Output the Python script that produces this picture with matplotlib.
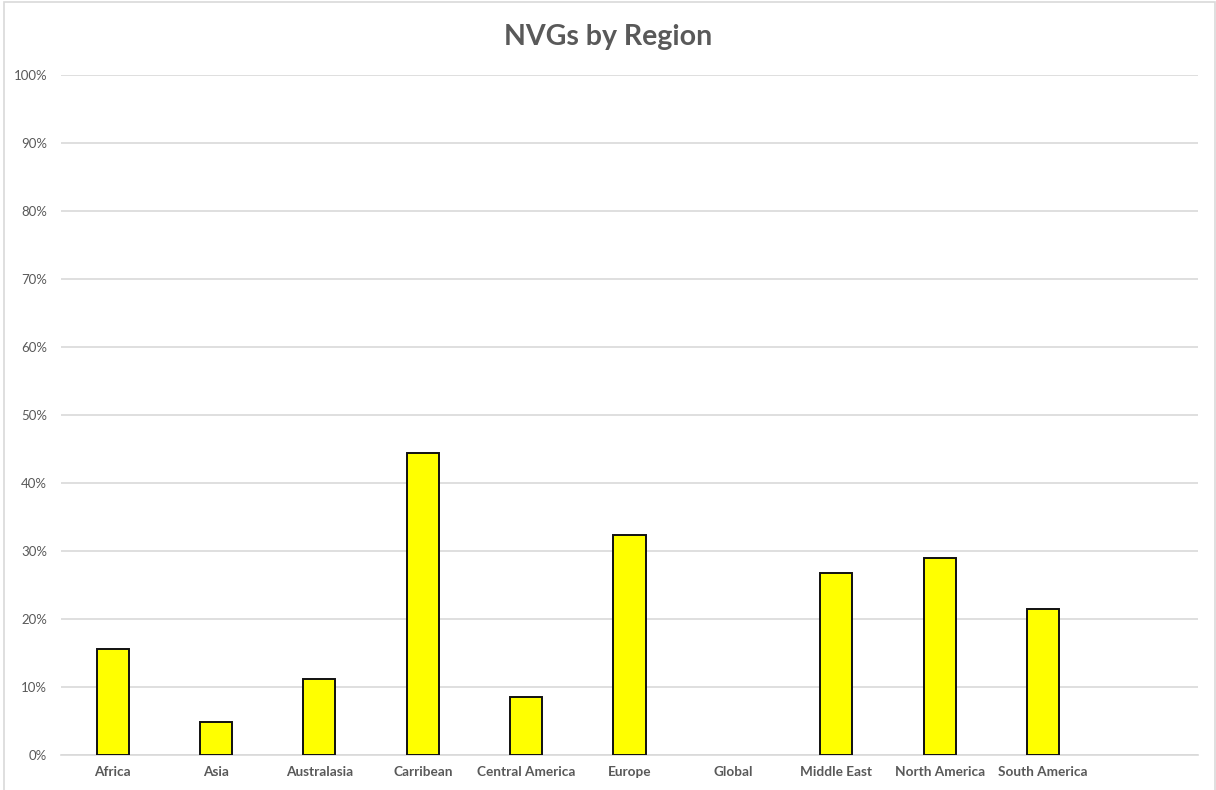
import matplotlib
matplotlib.use("Agg")
import matplotlib.pyplot as plt
from matplotlib.patches import Rectangle
from matplotlib.ticker import PercentFormatter, MultipleLocator

plt.rcParams["font.family"] = ["Lato", "DejaVu Sans"]

regions = ["Africa", "Asia", "Australasia", "Carribean", "Central America",
           "Europe", "Global", "Middle East", "North America", "South America", ""]
share = [0.155, 0.048, 0.111, 0.444, 0.084, 0.323, 0.0, 0.267, 0.289, 0.214, 0.0]

GREY = "#595959"
GRID = "#d9d9d9"

fig = plt.figure(figsize=(12.16, 7.9), dpi=100)
ax = fig.add_axes([61 / 1216, (790 - 754.6) / 790, (1198 - 61) / 1216, (754.6 - 74.5) / 790])

x = range(len(regions))
# empty categories get no outline, as in the spreadsheet
widths = [1.4 if v > 0 else 0 for v in share]
ax.bar(x, share, width=0.31, color="#ffff00", edgecolor="#111111", linewidth=widths, zorder=3)

ax.set_xlim(-0.5, len(regions) - 0.5)
ax.set_ylim(0, 1.0)
ax.yaxis.set_major_locator(MultipleLocator(0.1))
ax.yaxis.set_major_formatter(PercentFormatter(1.0, decimals=0))
ax.set_xticks(list(x))
ax.set_xticklabels(regions, fontweight="bold")
ax.grid(axis="y", color=GRID, linewidth=1.2, zorder=0)
for s in ["top", "right", "left"]:
    ax.spines[s].set_visible(False)
ax.spines["bottom"].set_color(GRID)
ax.spines["bottom"].set_linewidth(1.2)
ax.tick_params(axis="both", length=0, colors=GREY)
ax.tick_params(axis="y", pad=10, labelsize=9.5)
ax.tick_params(axis="x", pad=8, labelsize=9.8)

fig.text(0.5, 1 - 37 / 790, "NVGs by Region", ha="center", va="center",
         fontsize=20.5, fontweight="bold", color=GREY)

# light chart border like the spreadsheet frame
fig.patches.append(Rectangle((4 / 1216, -0.01), 1210.5 / 1216, 1 - 1.5 / 790 + 0.01,
                             transform=fig.transFigure, fill=False,
                             edgecolor=GRID, linewidth=1.2))

fig.savefig("out.png", dpi=100)
